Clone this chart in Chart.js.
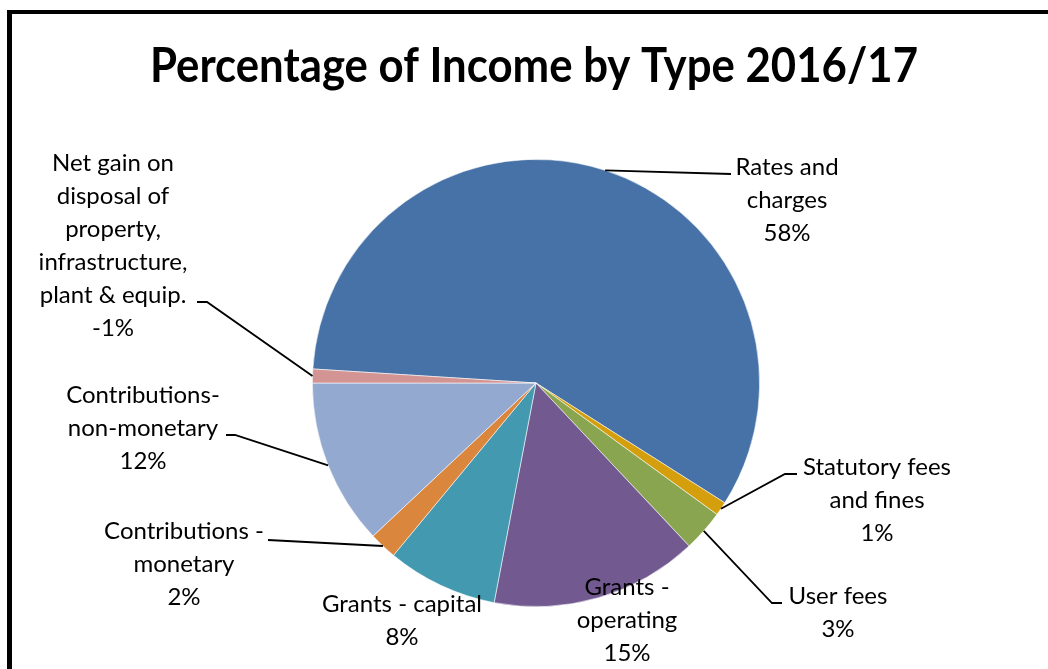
<!DOCTYPE html>
<html>
<head>
<meta charset="utf-8">
<title>Percentage of Income by Type 2016/17</title>
<script src="https://cdn.jsdelivr.net/npm/chart.js@4.4.1/dist/chart.umd.min.js"></script>
<style>
  html, body { margin: 0; padding: 0; background: #fff; }
  canvas { display: block; }
</style>
</head>
<body>
<canvas id="incomeChart" width="1048" height="669"></canvas>
<script>
const chartTitle = 'Percentage of Income by Type 2016/17';

// income types, clockwise from the big slice
const categories = [
    ['Rates and', 'charges'],
    ['Statutory fees', 'and fines'],
    ['User fees'],
    ['Grants -', 'operating'],
    ['Grants - capital'],
    ['Contributions -', 'monetary'],
    ['Contributions-', 'non-monetary'],
    ['Net gain on', 'disposal of', 'property,', 'infrastructure,', 'plant & equip.']
];
const percentages = [58, 1, 3, 15, 8, 2, 12, -1];
const sliceColors = ['#4672a7', '#d49e0c', '#8aa54f', '#725a90', '#4399b0', '#da863d', '#94a9cf', '#d39594'];

// where each data label sits (centre x, first line y) and the elbow of its leader line
const labelLayout = [
    { x: 787, y: 167, leader: [[731, 174]] },
    { x: 877, y: 467, leader: [[797, 474], [785, 474]] },
    { x: 838, y: 596, leader: [[782, 603], [772, 603]] },
    { x: 627, y: 587, leader: null },
    { x: 402, y: 604, leader: null },
    { x: 184, y: 531, leader: [[268, 540]] },
    { x: 143, y: 395, leader: [[226, 435], [235, 435]] },
    { x: 113, y: 163, leader: [[197, 302], [207, 302]] }
];
const LINE_H = 33;
const LABEL_FONT = '24px Lato, "Open Sans", sans-serif';

const framePlugin = {
    id: 'frame',
    beforeDraw(chart) {
        const ctx = chart.ctx;
        ctx.save();
        ctx.fillStyle = '#fff';
        ctx.fillRect(0, 0, chart.width, chart.height);
        ctx.fillStyle = '#000';
        ctx.fillRect(7, 10, 5, chart.height - 10);
        ctx.fillRect(7, 10, chart.width - 7, 4);

        ctx.font = 'bold 47px Lato, "Open Sans", sans-serif';
        ctx.textAlign = 'center';
        ctx.textBaseline = 'alphabetic';
        ctx.fillText(chartTitle, 534, 82, 768);
        ctx.restore();
    }
};

const labelPlugin = {
    id: 'sliceLabels',
    afterDatasetsDraw(chart) {
        const ctx = chart.ctx;
        const arcs = chart.getDatasetMeta(0).data;
        ctx.save();
        ctx.font = LABEL_FONT;
        ctx.fillStyle = '#000';
        ctx.textAlign = 'center';
        ctx.textBaseline = 'middle';

        arcs.forEach((arc, i) => {
            const lay = labelLayout[i];
            const lines = categories[i].concat([percentages[i] + '%']);
            lines.forEach((txt, k) => ctx.fillText(txt, lay.x, lay.y + k * LINE_H));

            if (!lay.leader) return;
            const p = arc.getProps(['x', 'y', 'startAngle', 'endAngle', 'outerRadius'], true);
            const mid = (p.startAngle + p.endAngle) / 2;
            ctx.beginPath();
            ctx.moveTo(lay.leader[0][0], lay.leader[0][1]);
            lay.leader.slice(1).forEach(pt => ctx.lineTo(pt[0], pt[1]));
            ctx.lineTo(p.x + Math.cos(mid) * p.outerRadius, p.y + Math.sin(mid) * p.outerRadius);
            ctx.lineWidth = 1.8;
            ctx.strokeStyle = '#000';
            ctx.stroke();
        });
        ctx.restore();
    }
};

new Chart(document.getElementById('incomeChart'), {
    type: 'pie',
    data: {
        labels: categories.map(c => c.join(' ')),
        datasets: [{
            data: percentages.map(v => Math.abs(v)),
            backgroundColor: sliceColors,
            borderColor: 'rgba(255,255,255,0.7)',
            borderWidth: 0.8
        }]
    },
    options: {
        responsive: false,
        devicePixelRatio: 1,
        animation: false,
        rotation: 273.6,
        layout: { padding: { left: 312, right: 288, top: 159, bottom: 62 } },
        plugins: {
            legend: { display: false },
            tooltip: { enabled: false },
            title: { display: false }
        }
    },
    plugins: [framePlugin, labelPlugin]
});
</script>
</body>
</html>
